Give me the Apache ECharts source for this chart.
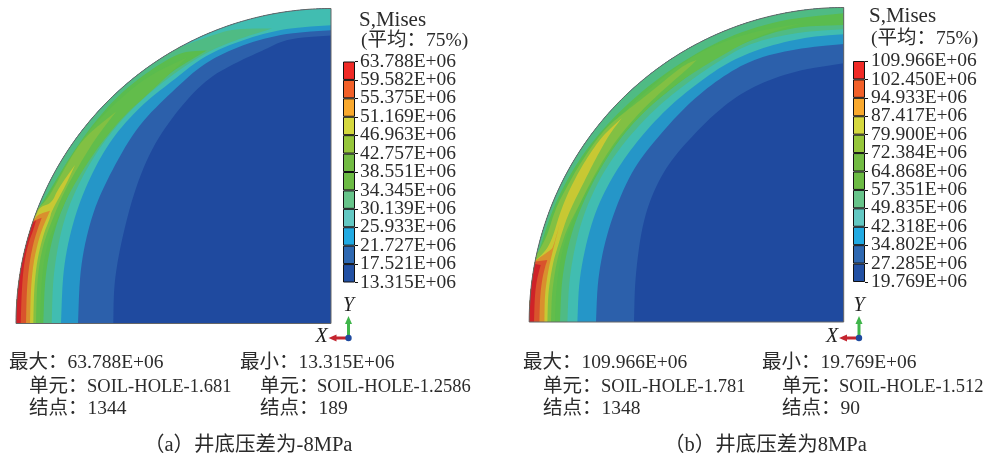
<!DOCTYPE html>
<html><head><meta charset="utf-8">
<script src="https://cdn.jsdelivr.net/npm/echarts@6/dist/echarts.min.js"></script>
<style>html,body{margin:0;padding:0;background:#fff}#c{width:989px;height:458px}</style>
</head><body><div id="c"></div>
<script>
// ---- contour colours (lowest to highest) and legend colours
const contourColors = ['#1f4a9f','#2c60ab','#2596c8','#41bdb1','#4fbb84','#5abc4e','#62bd4b','#82c043','#c8c833','#d9902e','#d9532c','#cf2228'];
const legendColors  = ['#2250a3','#2e68b1','#22aae2','#63c8c3','#67c48a','#6cbb44','#72bb43','#96c63b','#d5d83f','#f9a92e','#f26029','#f02a26'];

// ---- legend tick labels (low to high)
const ticksA = ['13.315E+06','17.521E+06','21.727E+06','25.933E+06','30.139E+06','34.345E+06','38.551E+06','42.757E+06','46.963E+06','51.169E+06','55.375E+06','59.582E+06','63.788E+06'];
const ticksB = ['19.769E+06','27.285E+06','34.802E+06','42.318E+06','49.835E+06','57.351E+06','64.868E+06','72.384E+06','79.900E+06','87.417E+06','94.933E+06','102.450E+06','109.966E+06'];

// ---- iso-lines: [distance left of axis, height above axis]
const RA = 315, RB = 314.5;
const aMid    = [[217.7,0],[217,47],[201,120],[181,173],[154,213],[124,245],[91,263],[68,273],[44,285],[0,288]];
const aBlue   = [[253,0],[251,57],[239,110],[221,150],[194,197],[161,230],[128,260],[91,278],[48,290],[0,293.3]];
const aTeal   = [[270,0],[268,57],[256,110],[238,153],[218,187],[188,220],[158,243],[128,267],[91,283],[48,295],[0,298.3]];
const aSea    = [[279.3,0],[278,50],[268,103],[251,143],[231,177],[204,210],[171,240],[128,270],[94,284],[59,295],[98,295],[128,285],[151,276.5]];
const aGreenA = [[287.7,0],[286,50],[276,97],[261,133],[241,173],[218,203],[191,227],[158,253],[124.3,273],[150,272],[180,254],[210,231],[238,200],[262,165],[277,140],[293,114]];
const aGreenB = [[291,0],[290,33.5],[287.5,60],[283.5,80],[278,95],[270,112],[263,128],[246,157],[228,183],[205,210],[180,232],[144,266],[180,249.5],[210,226],[240,196],[265,161],[280,132],[290,117],[293.5,113]];
const aLime   = [[295,0],[294.3,33.5],[291.7,60.2],[287.7,78.5],[282.7,93.5],[276.7,108.5],[267.7,130.2],[251,160],[234.3,186.8],[215,211.8],[244.3,188.5],[257.7,170.2],[272.7,143.5],[283,125],[293,115]];
const aYellow = [[297.7,0],[297,33.5],[294.3,60.2],[290.3,78.5],[286,93.5],[281,105.2],[279.3,112.8],[266,136.8],[256,158.5],[272.7,135.2],[279.3,120.2],[291,116.8],[295,108.5]];
const aOrange = [[301,0],[300.3,33.5],[297.7,60.2],[293.3,80.2],[289.3,93.5],[284.3,105.2],[281,112.8],[292.7,109.2],[296.7,104.2]];
const aRedOr  = [[305,0],[304.3,33.5],[301.7,60.2],[297.7,80.2],[293.7,93.5],[289.3,105.8],[297.7,102.5]];
const aRed    = [[310.3,0],[309.3,33.5],[307,60.2],[302.7,80.2],[297.7,93.5],[295,103],[297.7,101.2]];

const bMid    = [[209.7,0],[208.7,45.3],[200.3,105.3],[182,148.7],[158.7,178.7],[122,215.3],[88.7,237],[45.3,252],[0,258.7]];
const bBlue   = [[247.7,0],[246,45.3],[235.3,95.3],[213.7,148.7],[188.7,182],[155.3,218.7],[122,245.3],[88.7,263.7],[45.3,273.7],[0,278]];
const bTeal   = [[266.3,0],[264.7,45.3],[252,102],[233.7,142],[208.7,178.7],[178.7,212],[148.7,237],[115.3,260.3],[78.7,275.3],[35.3,285.3],[0,287.7]];
const bSea    = [[276.3,0],[274.7,45.3],[263.7,98.7],[245.3,142],[222,177],[192,210.3],[162,235.3],[128.7,258.7],[92,280],[42,290.3],[0,292.7]];
const bGreenA = [[283.7,0],[282,45.3],[272,92],[253.7,135.3],[230.3,175.3],[202,208.7],[172,233.7],[138.7,258.7],[102,278.7],[52,295.3],[0,297],[0,308.7],[60,303],[120,284.5],[180,249],[230,206],[265,163],[290,117],[305,70]];
const bGreenB = [[288.7,0],[288,25],[285.5,50],[280,78],[270,105],[258,130],[243,155],[222,187],[195,215],[165,240],[130,262],[85,287],[40,299],[100,288.8],[160,263],[230,202],[260,163],[287,106],[300,80],[305.5,69]];
const bLime   = [[292.7,0],[292,25],[290,42],[287,60],[283,75],[276,95],[267,112],[250.4,145.3],[230.4,178.7],[203.7,210.3],[177,235.3],[153.7,255.3],[147,262],[160.4,257],[190.4,232],[220.4,208.7],[240.4,192],[263.7,158.7],[280.4,128.7],[288.7,112],[297,85],[306.5,68]];
const bYellow = [[296.3,0],[295.7,25],[293.7,42],[290.5,60],[287,72],[280,95],[273.7,112],[260.4,138.7],[247,165.3],[233.7,188.7],[222,203.7],[240.4,187],[253.7,168.7],[267,147],[282,115.3],[293.7,75.3],[307.7,62]];
const bOrange = [[299.3,0],[299,25],[297,42],[294.3,57],[291,71],[284,98],[290.5,75],[293,72],[307.5,62]];
const bRedOr  = [[304.3,0],[303.7,25],[301.7,42],[298.7,55],[296.4,62],[308,60.5]];
const bRed    = [[309.7,0],[309,25],[307,42],[303,57],[309,58]];

const regionsA = [aMid,aBlue,aTeal,aSea,aGreenA,aGreenB,aLime,aYellow,aOrange,aRedOr,aRed];
const regionsB = [bMid,bBlue,bTeal,bSea,bGreenA,bGreenB,bLime,bYellow,bOrange,bRedOr,bRed];

// ---- captions
const SERIF = '19.5px "Liberation Serif","Noto Sans CJK SC"';
const SOIL  = '18.5px "Liberation Serif","Noto Sans CJK SC"';
const CAP   = '20.5px "Liberation Serif","Noto Sans CJK SC"';
const textsA = [
  ['(\u5e73\u5747\uff1a75%)',361,41],
  ['\u6700\u5927\uff1a63.788E+06',9,363],['\u6700\u5c0f\uff1a13.315E+06',240,363],
  ['\u5355\u5143\uff1a',29,387],['\u5355\u5143\uff1a',260,387],
  ['\u7ed3\u70b9\uff1a1344',29,409],['\u7ed3\u70b9\uff1a189',260,409]
];
const soilA = [['SOIL-HOLE-1.681',87,387],['SOIL-HOLE-1.2586',317,387]];
const captionA = [['\uff08a\uff09\u4e95\u5e95\u538b\u5dee\u4e3a-8MPa',144,446]];
const textsB = [
  ['(\u5e73\u5747\uff1a75%)',871,39],
  ['\u6700\u5927\uff1a109.966E+06',523,363],['\u6700\u5c0f\uff1a19.769E+06',762,363],
  ['\u5355\u5143\uff1a',543,387],['\u5355\u5143\uff1a',782,387],
  ['\u7ed3\u70b9\uff1a1348',543,409],['\u7ed3\u70b9\uff1a90',782,409]
];
const soilB = [['SOIL-HOLE-1.781',601,387],['SOIL-HOLE-1.512',839,387]];
const captionB = [['\uff08b\uff09\u4e95\u5e95\u538b\u5dee\u4e3a8MPa',664,446]];
const headers = [['S,Mises',359,20],['S,Mises',869,16]];

function rimPoints(api, R, from, to){
  const pts = [], n = Math.max(2, Math.ceil(Math.abs(to-from)/0.01));
  for (let i=0;i<=n;i++){ const t = from+(to-from)*i/n; pts.push(api.coord([R*Math.cos(t),R*Math.sin(t)])); }
  return pts;
}
// rounds the drawn curve between read points, keeping sharp tips sharp
function roundCurve(pts){
  let cur = pts;
  for (let it=0; it<3; it++){
    const out = [cur[0]];
    for (let i=1;i<cur.length-1;i++){
      const p=cur[i-1], q=cur[i], r=cur[i+1];
      const a1=Math.atan2(q[1]-p[1],q[0]-p[0]), a2=Math.atan2(r[1]-q[1],r[0]-q[0]);
      let d=Math.abs(a1-a2); if(d>Math.PI) d=2*Math.PI-d;
      if (d>1.0){ out.push(q); continue; }
      out.push([q[0]*0.75+p[0]*0.25,q[1]*0.75+p[1]*0.25]);
      out.push([q[0]*0.75+r[0]*0.25,q[1]*0.75+r[1]*0.25]);
    }
    out.push(cur[cur.length-1]);
    cur = out;
  }
  return cur;
}
function contourSeries(regions, R, gridIndex){
  return {
    type:'custom', xAxisIndex:gridIndex, yAxisIndex:gridIndex, clip:false, silent:true,
    coordinateSystem:'cartesian2d', animation:false,
    data: [-1].concat(regions.map((r,i)=>i)).map(i=>[i]).concat([[-2]]),
    renderItem(params, api){
      const i = api.value(0);
      if (i === -1 || i === -2){
        const pts = rimPoints(api,R,0,Math.PI/2).concat([api.coord([0,0])]);
        return {type:'polygon', shape:{points:pts},
          style: i===-1 ? {fill:contourColors[0]} : {fill:'none',stroke:'#666',lineWidth:1}};
      }
      const line = regions[i], first=line[0], last=line[line.length-1];
      const pts = roundCurve(line.map(p=>api.coord(p))).concat(
        rimPoints(api,R,Math.atan2(last[1],last[0]),Math.atan2(first[1],first[0])));
      return {type:'polygon', shape:{points:pts}, style:{fill:contourColors[i+1]}};
    }
  };
}
function legendSeries(gridIndex){
  return legendColors.map((c)=>({
    type:'bar', stack:'legend'+gridIndex, xAxisIndex:gridIndex, yAxisIndex:gridIndex,
    barWidth:'100%', data:[1], silent:true, animation:false,
    itemStyle:{color:c,borderColor:'#111',borderWidth:1}
  }));
}
function legendValueAxis(gridIndex){
  return {gridIndex,type:'value',min:0,max:12,interval:1,show:false};
}
function legendLabelAxis(gridIndex,ticks,margin){
  return {gridIndex,type:'category',data:ticks,boundaryGap:false,position:'right',
    axisLine:{show:false},splitLine:{show:false},
    axisTick:{show:true,interval:0,length:3,lineStyle:{color:'#111'}},
    axisLabel:{interval:0,margin,color:'#2b2b2b',fontFamily:'"Liberation Serif"',fontSize:19.5,padding:[4,0,0,0]}};
}
function textItems(list,font){
  return list.map(t=>({type:'text',x:t[1],y:t[2],silent:true,
    style:{text:t[0],font:font||SERIF,fill:'#2b2b2b',align:'left',verticalAlign:'middle'}}));
}
function triad(cx,cy){
  return [
    {type:'line',shape:{x1:cx,y1:cy,x2:cx,y2:cy-17},style:{stroke:'#3fb54a',lineWidth:3}},
    {type:'polygon',shape:{points:[[cx,cy-22],[cx-3.5,cy-14],[cx+3.5,cy-14]]},style:{fill:'#3fb54a'}},
    {type:'line',shape:{x1:cx,y1:cy,x2:cx-15,y2:cy},style:{stroke:'#c4252f',lineWidth:3}},
    {type:'polygon',shape:{points:[[cx-20,cy],[cx-12,cy-3.5],[cx-12,cy+3.5]]},style:{fill:'#c4252f'}},
    {type:'circle',shape:{cx,cy,r:3.2},style:{fill:'#1f4a9f'}},
    {type:'text',x:cx,y:cy-32,style:{text:'Y',font:'italic 20px "Liberation Serif"',fill:'#222',align:'center',verticalAlign:'middle'}},
    {type:'text',x:cx-27,y:cy-1,style:{text:'X',font:'italic 20px "Liberation Serif"',fill:'#222',align:'center',verticalAlign:'middle'}}
  ];
}
const hidden = {show:false};
const chart = echarts.init(document.getElementById('c'),null,{renderer:'canvas'});
chart.setOption({
  animation:false, backgroundColor:'#fff',
  grid:[
    {left:16,top:8.5,width:RA,height:RA},
    {left:343,top:61.5,width:12,height:221},
    {left:529.2,top:7.5,width:RB,height:RB},
    {left:853,top:61,width:12,height:221}
  ],
  xAxis:[
    {gridIndex:0,type:'value',min:0,max:RA,inverse:true,...hidden},
    {gridIndex:1,type:'category',data:['S'],...hidden},
    {gridIndex:2,type:'value',min:0,max:RB,inverse:true,...hidden},
    {gridIndex:3,type:'category',data:['S'],...hidden}
  ],
  yAxis:[
    {gridIndex:0,type:'value',min:0,max:RA,...hidden},
    legendValueAxis(1),
    {gridIndex:2,type:'value',min:0,max:RB,...hidden},
    legendValueAxis(3),
    legendLabelAxis(1,ticksA,5),
    legendLabelAxis(3,ticksB,6)
  ],
  series:[contourSeries(regionsA,RA,0),contourSeries(regionsB,RB,2)]
    .concat(legendSeries(1)).concat(legendSeries(3)),
  graphic:{elements:[...textItems(textsA),...textItems(textsB),
    ...textItems(soilA,SOIL),...textItems(soilB,SOIL),
    ...textItems(captionA,CAP),...textItems(captionB,CAP),
    ...textItems(headers,'21px "Liberation Serif"'),...triad(348.5,338),...triad(859,338)]}
});
</script></body></html>
